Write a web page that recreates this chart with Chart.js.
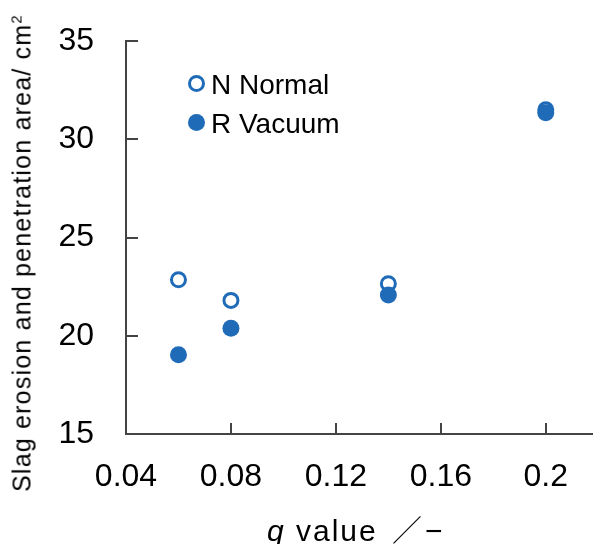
<!DOCTYPE html>
<html>
<head>
<meta charset="utf-8">
<script src="https://cdn.jsdelivr.net/npm/chart.js@4"></script>
<style>
  html, body { margin: 0; padding: 0; background: #fff; }
  #wrap { position: relative; width: 593px; height: 544px; overflow: hidden; font-family: "Liberation Sans", Arial, sans-serif; color: #000; }
  #c { position: absolute; left: 0; top: 0; }
  .ytitle { position: absolute; left: 22px; top: 253px; transform: translate(-50%, -50%) rotate(-90deg); white-space: nowrap; font-size: 25px; letter-spacing: 1.2px; line-height: 1; }
  .ytitle sup { font-size: 60%; vertical-align: 0.6em; line-height: 0; }
  .xtitle { position: absolute; left: 267px; top: 539px; transform: translateY(-80%); white-space: nowrap; font-size: 30px; letter-spacing: 2px; line-height: 1; }
  .xtitle .cjk { font-family: "Noto Sans CJK JP", sans-serif; font-weight: 300; letter-spacing: 0; padding-left: 4px; }
  .xtitle .dash { padding-left: 3px; }
  .legend { position: absolute; left: 0; top: 0; }
  .li { position: absolute; white-space: nowrap; font-size: 28px; line-height: 1; }
  .dot { position: absolute; border-radius: 50%; box-sizing: border-box; }
</style>
</head>
<body>
<div id="wrap">
  <canvas id="c" width="593" height="544"></canvas>
  <div class="ytitle">Slag erosion and penetration area/ cm<sup>2</sup></div>
  <div class="xtitle"><i>q</i> value <span class="cjk">／</span><span class="dash">−</span></div>
  <div id="legend" class="legend"></div>
</div>
<script>
const qValues = [0.06, 0.08, 0.14, 0.2];
const normalArea = [22.85, 21.8, 22.65, 31.5];
const vacuumArea = [19.03, 20.38, 22.07, 31.35];
const xTickValues = [0.04, 0.08, 0.12, 0.16, 0.2];
const yTickValues = [15, 20, 25, 30, 35];
const seriesLabels = ['N Normal', 'R Vacuum'];

const BLUE = '#1f6bb8';
const AXIS = '#444444';

const pts = (ys) => qValues.map((x, i) => ({ x: x, y: ys[i] }));

const inwardTicks = {
  id: 'inwardTicks',
  afterDraw(chart) {
    const ctx = chart.ctx;
    const xs = chart.scales.x, ys = chart.scales.y;
    const a = chart.chartArea;
    ctx.save();
    ctx.strokeStyle = AXIS;
    ctx.lineWidth = 2;
    ctx.beginPath();
    xTickValues.forEach(v => {
      const px = Math.round(xs.getPixelForValue(v));
      ctx.moveTo(px, a.bottom);
      ctx.lineTo(px, a.bottom - 11);
    });
    yTickValues.forEach(v => {
      const py = Math.round(ys.getPixelForValue(v));
      ctx.moveTo(a.left, py);
      ctx.lineTo(a.left + 12, py);
    });
    ctx.stroke();
    ctx.restore();
  }
};

const chart = new Chart(document.getElementById('c'), {
  type: 'scatter',
  data: {
    datasets: [
      {
        label: seriesLabels[0],
        data: pts(normalArea),
        pointRadius: 7,
        pointHoverRadius: 7,
        borderWidth: 3,
        pointBorderWidth: 3,
        borderColor: BLUE,
        backgroundColor: '#ffffff',
        order: 1
      },
      {
        label: seriesLabels[1],
        data: pts(vacuumArea),
        pointRadius: 8.5,
        pointHoverRadius: 8.5,
        borderWidth: 0,
        pointBorderWidth: 0,
        borderColor: BLUE,
        backgroundColor: BLUE,
        order: 0
      }
    ]
  },
  options: {
    responsive: false,
    animation: false,
    layout: { autoPadding: false, padding: { top: 41, right: 0, left: 0, bottom: 0 } },
    plugins: { legend: { display: false }, tooltip: { enabled: false } },
    scales: {
      x: {
        type: 'linear',
        min: 0.04,
        max: 0.218,
        afterBuildTicks: s => { s.ticks = xTickValues.map(v => ({ value: v })); },
        afterFit: s => { s.height = 110; s.paddingLeft = 0; s.paddingRight = 0; s.paddingTop = 0; s.paddingBottom = 0; },
        grid: { display: false, drawTicks: false },
        border: { display: true, color: AXIS, width: 2 },
        ticks: {
          padding: 24,
          color: '#000',
          maxRotation: 0,
          font: { family: '"Liberation Sans", Arial, sans-serif', size: 32 },
          callback: v => String(+v.toFixed(2))
        }
      },
      y: {
        type: 'linear',
        min: 15,
        max: 35,
        afterBuildTicks: s => { s.ticks = yTickValues.map(v => ({ value: v })); },
        afterFit: s => { s.width = 126; s.paddingLeft = 0; s.paddingRight = 0; s.paddingTop = 0; s.paddingBottom = 0; },
        grid: { display: false, drawTicks: false },
        border: { display: true, color: AXIS, width: 2 },
        ticks: {
          padding: 32,
          color: '#000',
          font: { family: '"Liberation Sans", Arial, sans-serif', size: 32 },
          callback: v => String(v)
        }
      }
    }
  },
  plugins: [inwardTicks]
});

// HTML legend built from the datasets
(function buildLegend() {
  const lg = document.getElementById('legend');
  const rows = [{ cy: 83, ds: chart.data.datasets[0], open: true }, { cy: 122, ds: chart.data.datasets[1], open: false }];
  rows.forEach(r => {
    const d = document.createElement('div');
    d.className = 'dot';
    const size = 17;
    d.style.width = size + 'px';
    d.style.height = size + 'px';
    d.style.left = (196 - size / 2) + 'px';
    d.style.top = (r.cy - size / 2) + 'px';
    if (r.open) {
      d.style.border = '3px solid ' + r.ds.borderColor;
      d.style.background = '#fff';
    } else {
      d.style.background = r.ds.backgroundColor;
    }
    lg.appendChild(d);
    const t = document.createElement('div');
    t.className = 'li';
    t.textContent = r.ds.label;
    t.style.left = '211px';
    t.style.top = (r.cy + 2) + 'px';
    t.style.transform = 'translateY(-50%)';
    lg.appendChild(t);
  });
})();
</script>
</body>
</html>
